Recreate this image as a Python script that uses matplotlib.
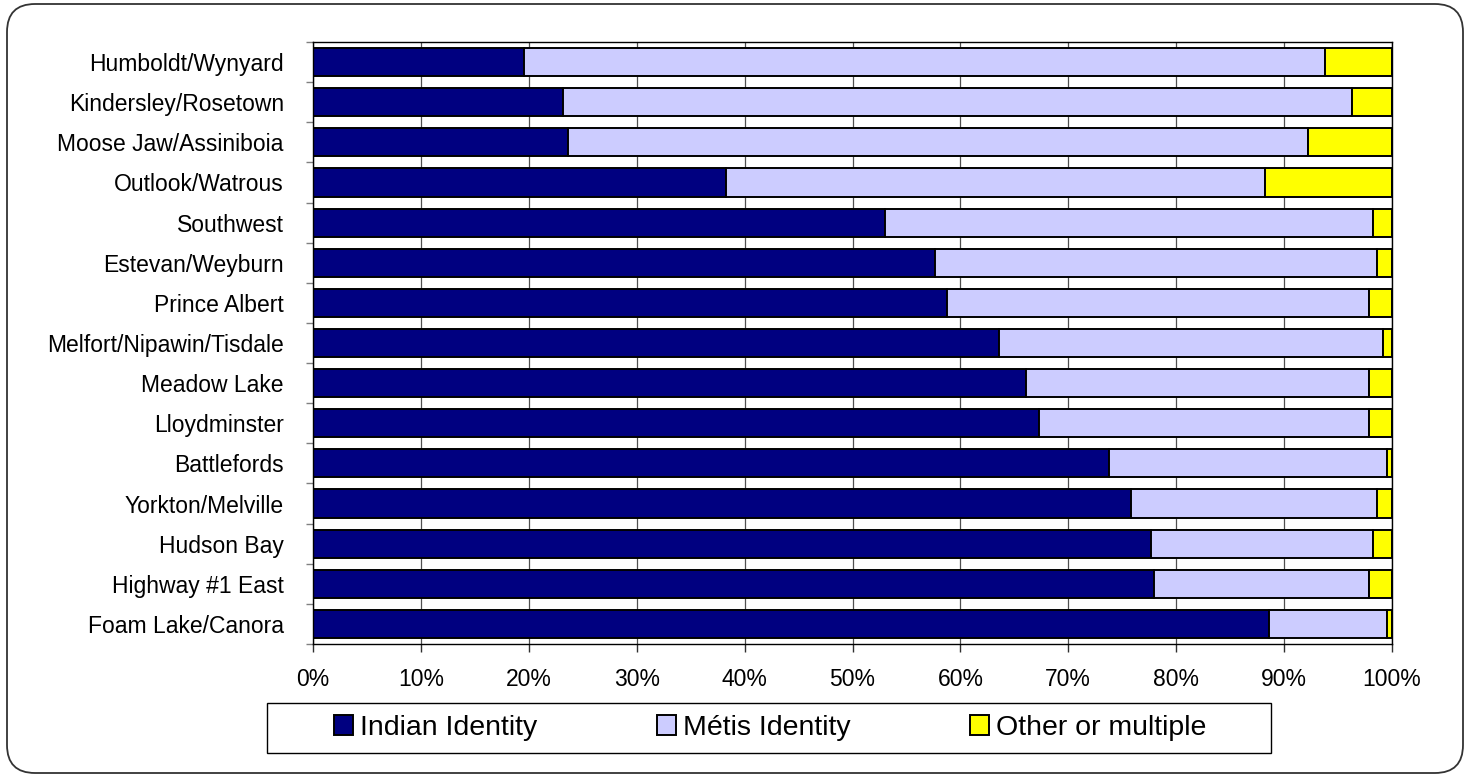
import matplotlib.pyplot as plt
import numpy as np
import matplotlib.ticker as ticker
from matplotlib.patches import FancyBboxPatch, Rectangle
from matplotlib.transforms import IdentityTransform

plt.rcParams['font.family'] = ['Liberation Sans', 'DejaVu Sans']

# datos (porcentajes, de arriba hacia abajo)
regiones = ['Humboldt/Wynyard', 'Kindersley/Rosetown', 'Moose Jaw/Assiniboia',
            'Outlook/Watrous', 'Southwest', 'Estevan/Weyburn', 'Prince Albert',
            'Melfort/Nipawin/Tisdale', 'Meadow Lake', 'Lloydminster',
            'Battlefords', 'Yorkton/Melville', 'Hudson Bay', 'Highway #1 East',
            'Foam Lake/Canora']
indian = [19.6, 23.2, 23.6, 38.3, 53.0, 57.6, 58.8, 63.6, 66.1, 67.3,
          73.8, 75.8, 77.7, 77.9, 88.6]
metis = [74.2, 73.1, 68.6, 49.9, 45.2, 41.0, 39.1, 35.6, 31.8, 30.6,
         25.7, 22.8, 20.5, 20.0, 10.9]
otro = [6.2, 3.7, 7.8, 11.8, 1.8, 1.4, 2.1, 0.8, 2.1, 2.1,
        0.5, 1.4, 1.8, 2.1, 0.5]
series = ['Indian Identity', 'Métis Identity', 'Other or multiple']
colores = ['#000080', '#CCCCFF', '#FFFF00']

W, H = 1469, 777
fig = plt.figure(figsize=(W / 100, H / 100), dpi=100)
ax = fig.add_axes([313 / W, 1 - 644 / H, (1392 - 313) / W, (644 - 42) / H])

y = np.arange(len(regiones))
indian = np.array(indian)
metis = np.array(metis)
otro = np.array(otro)

ax.barh(y, indian, height=0.7, color=colores[0], edgecolor='black', linewidth=1.4, label=series[0])
ax.barh(y, metis, left=indian, height=0.7, color=colores[1], edgecolor='black', linewidth=1.4, label=series[1])
ax.barh(y, otro, left=indian + metis, height=0.7, color=colores[2], edgecolor='black', linewidth=1.4, label=series[2])

ax.set_xlim(0, 100)
ax.set_ylim(len(regiones) - 0.5, -0.5)

ax.set_xticks(np.arange(0, 101, 10))
ax.xaxis.set_major_formatter(ticker.FuncFormatter(lambda v, p: f'{v:.0f}%'))
ax.set_yticks(y)
ax.set_yticklabels(regiones)
ax.set_yticks(np.arange(-0.5, len(regiones), 1), minor=True)

ax.tick_params(axis='y', which='major', length=0, pad=21, labelsize=16.5)
ax.tick_params(axis='y', which='minor', length=5, width=1, color='#808080')
ax.tick_params(axis='x', which='major', length=6, width=1, color='#303030', pad=11, labelsize=16.5)

ax.grid(True, axis='x', color='#505050', linewidth=0.9)
ax.set_axisbelow(True)
for s in ax.spines.values():
    s.set_color('black')
    s.set_linewidth(1)

# leyenda
leg = fig.legend(loc='center', bbox_to_anchor=(770 / W, 1 - 728 / H), ncol=3,
                 frameon=False, fontsize=20.5, columnspacing=4.2,
                 handlelength=0.67, handleheight=0.67, handletextpad=0.25)
fig.patches.append(Rectangle((267 / W, 1 - 753 / H), 1004 / W, 50 / H,
                             transform=fig.transFigure, facecolor='none',
                             edgecolor='black', linewidth=1))

# borde redondeado
fig.patches.append(FancyBboxPatch((7, 4), 1456, 769, boxstyle='round,pad=0,rounding_size=28',
                                  transform=IdentityTransform(), facecolor='none',
                                  edgecolor='#333333', linewidth=1.3))

fig.savefig('out.png', dpi=100)
